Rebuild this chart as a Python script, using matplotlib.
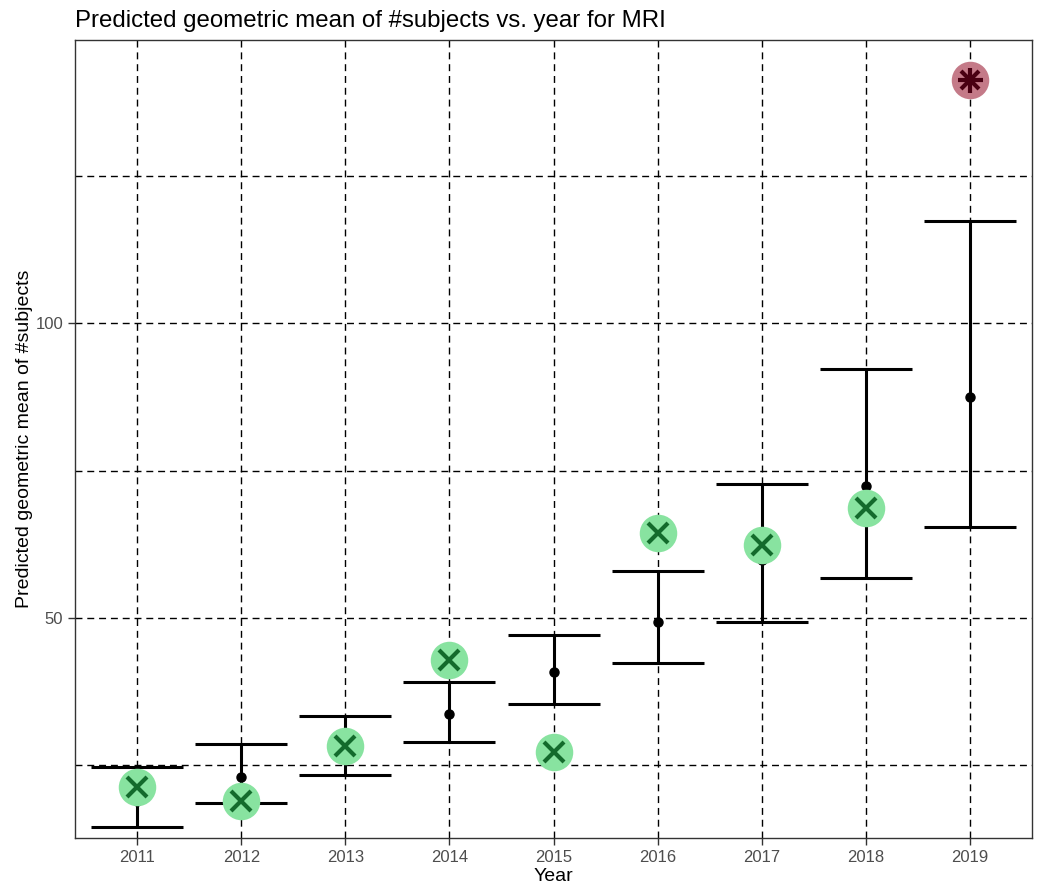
import matplotlib
matplotlib.use("Agg")
import matplotlib.pyplot as plt
import numpy as np

plt.rcParams['font.family'] = ['Liberation Sans', 'DejaVu Sans']

years = ["2011", "2012", "2013", "2014", "2015", "2016", "2017", "2018", "2019"]
pred = [18.9, 23.1, 28.0, 33.7, 40.9, 49.4, 59.8, 72.4, 87.5]
lower = [14.5, 18.6, 23.4, 29.0, 35.4, 42.3, 49.3, 56.8, 65.4]
upper = [24.8, 28.6, 33.4, 39.2, 47.2, 58.0, 72.7, 92.2, 117.3]
observed = [21.4, 18.9, 28.3, 42.9, 27.2, 64.4, 62.4, 68.6, 141.3]
outside = [False, False, False, False, False, False, False, False, True]
major_y = [50, 100]
minor_y = [25, 75, 125]

fig = plt.figure(figsize=(10.37, 8.88), dpi=100)
ax = fig.add_axes([75/1037, 1-838/888, (1032-75)/1037, (838-40)/888])

x = np.arange(len(years))
ax.set_xlim(-0.6, len(years) - 0.4)
ax.set_ylim(12.7, 148.0)

# grid
grid_kw = dict(color='black', linewidth=1.0, linestyle=(0, (5, 3.5)), zorder=1)
for xi in x:
    ax.axvline(xi, **grid_kw)
for yv in major_y + minor_y:
    ax.axhline(yv, **grid_kw)

# error bars
ax.errorbar(x, pred, yerr=[np.array(pred) - np.array(lower), np.array(upper) - np.array(pred)],
            fmt='o', color='black', ms=6.5, elinewidth=2.2, capsize=33, capthick=2.2, zorder=3)

# observed markers
for xi, ov, out in zip(x, observed, outside):
    if out:
        ax.plot(xi, ov, 'o', ms=27, color='#c47a88', mec='none', zorder=4)
        ax.plot(xi, ov, '+', ms=18, mew=3, color='#4a0012', zorder=5)
        ax.plot(xi, ov, 'x', ms=13, mew=3, color='#4a0012', zorder=5)
    else:
        ax.plot(xi, ov, 'o', ms=27, color='#88e3a0', mec='none', zorder=4)
        ax.plot(xi, ov, 'x', ms=15, mew=3, color='#136b2c', zorder=5)

ax.set_xticks(x)
ax.set_xticklabels(years)
ax.set_yticks(major_y)
ax.set_yticklabels([str(v) for v in major_y])
ax.tick_params(axis='both', colors='#333333', labelcolor='#4d4d4d', labelsize=12, length=5, width=1)
for s in ax.spines.values():
    s.set_color('#333333')
    s.set_linewidth(1.0)

ax.set_xlabel("Year", fontsize=14, labelpad=2)
ax.set_ylabel("Predicted geometric mean of #subjects", fontsize=14, labelpad=2)
ax.set_title("Predicted geometric mean of #subjects vs. year for MRI", fontsize=17.3, loc='left', pad=9)

fig.savefig("out.png", dpi=100)
